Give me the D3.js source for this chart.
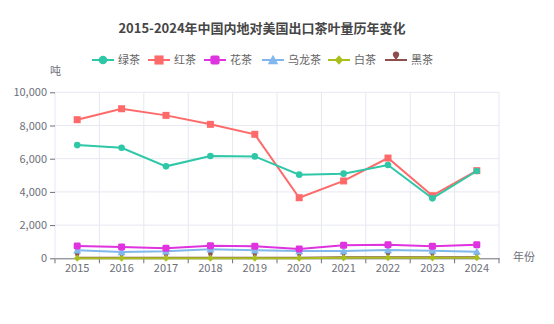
<!DOCTYPE html>
<html>
<head>
<meta charset="utf-8">
<script src="https://cdn.jsdelivr.net/npm/d3@7"></script>
<style>
  html, body { margin: 0; padding: 0; background: #fff; }
  svg { display: block; font-family: "Noto Sans CJK SC", "Noto Sans", sans-serif; }
</style>
</head>
<body>
<svg id="chart" width="554" height="324"></svg>
<script>
// Annual tea exports from mainland China to the US (tonnes)
const years = ["2015", "2016", "2017", "2018", "2019", "2020", "2021", "2022", "2023", "2024"];
const greenTea  = [6820, 6660, 5540, 6160, 6140, 5040, 5100, 5620, 3610, 5260];
const blackTea  = [8350, 9010, 8610, 8070, 7470, 3650, 4660, 6040, 3770, 5280];
const flowerTea = [740, 680, 600, 760, 720, 560, 780, 820, 720, 820];
const oolongTea = [480, 380, 420, 540, 480, 440, 440, 500, 460, 400];
const whiteTea  = [5, 5, 5, 5, 5, 5, 30, 35, 30, 35];
const darkTea   = [30, 30, 30, 30, 30, 30, 60, 70, 60, 70];
const yTicks = [0, 2000, 4000, 6000, 8000, 10000];

const series = [
  { name: "绿茶",   values: greenTea,  color: "#2ec7a7", symbol: "circle" },
  { name: "红茶",   values: blackTea,  color: "#fe6a6a", symbol: "square" },
  { name: "花茶",   values: flowerTea, color: "#de33de", symbol: "roundSquare" },
  { name: "乌龙茶", values: oolongTea, color: "#80b7ec", symbol: "triangle" },
  { name: "白茶",   values: whiteTea,  color: "#a9c01c", symbol: "diamond" },
  { name: "黑茶",   values: darkTea,   color: "#8e4f4f", symbol: "pin" }
];

const svg = d3.select("#chart");
const margin = { left: 55, right: 499, top: 92.3, bottom: 258.3 };

const x = d3.scaleBand().domain(years).range([margin.left, margin.right]);
const y = d3.scaleLinear().domain([0, 10000]).range([margin.bottom, margin.top]);
const cx = d => x(d) + x.bandwidth() / 2;

// Title
svg.append("text")
  .attr("x", 262).attr("y", 33)
  .attr("text-anchor", "middle")
  .attr("font-size", 13).attr("font-weight", "bold")
  .attr("fill", "#464646")
  .text("2015-2024年中国内地对美国出口茶叶量历年变化");

// Grid lines
const grid = svg.append("g");
grid.selectAll("line.h").data(yTicks.slice(1)).join("line")
  .attr("x1", margin.left).attr("x2", margin.right)
  .attr("y1", d => y(d)).attr("y2", d => y(d))
  .attr("stroke", "#e6e8f2").attr("stroke-width", 1);
const bounds = years.map(d => x(d)).concat([margin.right]);
grid.selectAll("line.v").data(bounds).join("line")
  .attr("x1", d => d).attr("x2", d => d)
  .attr("y1", margin.top).attr("y2", margin.bottom)
  .attr("stroke", "#e6e8f2").attr("stroke-width", 1);

// Y axis (ticks + labels, no line)
const yAxis = svg.append("g")
  .attr("transform", `translate(${margin.left},0)`)
  .call(d3.axisLeft(y).tickValues(yTicks).tickFormat(d3.format(",")).tickSize(5).tickPadding(3));
yAxis.select(".domain").remove();
yAxis.selectAll(".tick line").attr("stroke", "#6e7079");
yAxis.selectAll(".tick text")
  .attr("fill", "#6e7079").attr("font-size", 11)
  .attr("font-family", "'Noto Sans CJK SC', sans-serif");

// X axis
const xAxis = svg.append("g")
  .attr("transform", `translate(0,${margin.bottom})`)
  .call(d3.axisBottom(x).tickSize(0).tickPadding(6));
xAxis.select(".domain").attr("stroke", "#6e7079");
xAxis.selectAll(".tick text")
  .attr("fill", "#6e7079").attr("font-size", 11)
  .attr("font-family", "'Noto Sans CJK SC', sans-serif");
xAxis.selectAll("line.b").data(bounds).join("line")
  .attr("x1", d => d).attr("x2", d => d)
  .attr("y1", 0).attr("y2", 5)
  .attr("stroke", "#6e7079");

// Axis names
svg.append("text").attr("x", 50).attr("y", 75)
  .attr("font-size", 11).attr("fill", "#6e7079").text("吨");
svg.append("text").attr("x", 513).attr("y", 261)
  .attr("font-size", 11).attr("fill", "#6e7079").text("年份");

// Marker drawing; k scales the marker size
function drawSymbol(g, type, px, py, color, k) {
  const s = k || 1;
  switch (type) {
    case "circle":
      g.append("circle").attr("cx", px).attr("cy", py).attr("r", 3.3 * s).attr("fill", color);
      break;
    case "square":
      g.append("rect").attr("x", px - 3.5 * s).attr("y", py - 3.5 * s)
        .attr("width", 7 * s).attr("height", 7 * s).attr("fill", color);
      break;
    case "roundSquare":
      g.append("rect").attr("x", px - 3.5 * s).attr("y", py - 3.5 * s)
        .attr("width", 7 * s).attr("height", 7 * s).attr("rx", 1.4 * s).attr("fill", color);
      break;
    case "triangle":
      g.append("path").attr("d", `M${px},${py - 4 * s}L${px + 4 * s},${py + 3.2 * s}L${px - 4 * s},${py + 3.2 * s}Z`).attr("fill", color);
      break;
    case "diamond":
      g.append("path").attr("d", `M${px},${py - 3.6 * s}L${px + 3.2 * s},${py}L${px},${py + 3.6 * s}L${px - 3.2 * s},${py}Z`).attr("fill", color);
      break;
    case "pin": {
      const r = 2.4 * s, hy = py - 4.2 * s;
      g.append("path")
        .attr("d", `M${px - r * 0.8},${hy + r * 0.6}L${px},${py}L${px + r * 0.8},${hy + r * 0.6}Z`)
        .attr("fill", color);
      g.append("circle").attr("cx", px).attr("cy", hy).attr("r", r).attr("fill", color);
      break;
    }
  }
}

// Lines, drawn bottom-most series first so large series sit on top
const plot = svg.append("g");
const line = d3.line().x((d, i) => cx(years[i])).y(d => y(d));
series.slice().reverse().forEach(s => {
  const g = plot.append("g");
  g.append("path").datum(s.values)
    .attr("d", line).attr("fill", "none")
    .attr("stroke", s.color).attr("stroke-width", 2);
  s.values.forEach((v, i) => drawSymbol(g, s.symbol, cx(years[i]), y(v), s.color, 1));
});

// Legend
const legendX = [92, 148, 204, 262, 328, 385];
const legend = svg.append("g");
series.forEach((s, i) => {
  const lx = legendX[i], ly = 60;
  legend.append("line")
    .attr("x1", lx).attr("x2", lx + 22).attr("y1", ly).attr("y2", ly)
    .attr("stroke", s.color).attr("stroke-width", 2);
  drawSymbol(legend, s.symbol, lx + 11, ly, s.color, 1.3);
  legend.append("text")
    .attr("x", lx + 26).attr("y", ly + 4)
    .attr("font-size", 11).attr("fill", "#666")
    .text(s.name);
});
</script>
</body>
</html>
